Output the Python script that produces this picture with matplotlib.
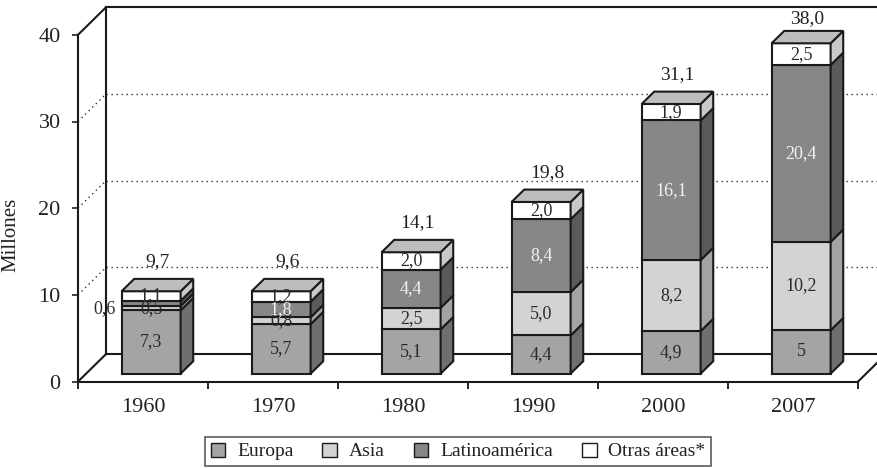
import matplotlib
matplotlib.use("Agg")
import matplotlib.pyplot as plt
from matplotlib.patches import Polygon, Patch

# data (millones)
years = ['1960', '1970', '1980', '1990', '2000', '2007']
europa = [7.3, 5.7, 5.1, 4.4, 4.9, 5]
asia = [0.5, 0.8, 2.5, 5.0, 8.2, 10.2]
latino = [0.6, 1.8, 4.4, 8.4, 16.1, 20.4]
otras = [1.1, 1.2, 2.0, 2.0, 1.9, 2.5]
totals = [9.7, 9.6, 14.1, 19.8, 31.1, 38.0]
series_names = ['Europa', 'Asia', 'Latinoamérica', 'Otras áreas*']

front_cols = ['#a4a4a7', '#d3d3d5', '#87878a', '#ffffff']
side_cols = ['#6f6f72', '#a3a3a6', '#5a5a5d', '#c9c9cb']
top_col = '#bdbdc0'
text_cols = ['#2a2a2a', '#2a2a2a', '#f2f2f2', '#2a2a2a']
edge = '#1a1a1a'

plt.rcParams['font.family'] = ['Liberation Serif', 'DejaVu Serif']

W, H = 878, 468
fig = plt.figure(figsize=(W / 100, H / 100), dpi=100)
# front face of the plotting box, in pixels
x0, y0, pw, ph = 78, 381.6, 780, 346.8
ax = fig.add_axes([x0 / W, (H - y0) / H, pw / W, ph / H])
ax.set_xlim(0, 6)
ax.set_ylim(0, 40)
ax.patch.set_visible(False)

# depth of the box in data units
DX = 28 / 130
DY = 27.5 / 8.67
d0, bd = 0.29, 0.45      # bar depth start and depth size (fraction of box)
bw = 0.454               # bar width

# walls
lk = dict(color=edge, lw=1.5, clip_on=False, zorder=1)
ax.plot([0, DX], [0, DY], **lk)
ax.plot([DX, DX], [DY, 40 + DY], **lk)
ax.plot([0, DX], [40, 40 + DY], **lk)
ax.plot([DX, 6.4], [40 + DY, 40 + DY], **lk)
ax.plot([DX, 6 + DX], [DY, DY], **lk)
ax.plot([6, 6 + DX], [0, DY], **lk)
for v in [10, 20, 30]:
    ax.plot([DX, 6.4], [v + DY, v + DY], color='#333333', lw=1.0,
            dashes=(1, 2.6), clip_on=False, zorder=1)
    ax.plot([0, DX], [v, v + DY], color='#333333', lw=1.0,
            dashes=(1, 2.6), clip_on=False, zorder=1)

for s in ['top', 'right']:
    ax.spines[s].set_visible(False)
for s in ['left', 'bottom']:
    ax.spines[s].set_linewidth(1.5)
    ax.spines[s].set_color(edge)

ax.set_yticks([0, 10, 20, 30, 40])
ax.tick_params(axis='y', direction='out', length=4.5, width=1.2, pad=8,
               labelsize=16, colors='#222222')
ax.set_xticks(range(7))
ax.set_xticklabels([])
ax.set_xticks([i + 0.5 for i in range(6)], minor=True)
ax.set_xticklabels(years, minor=True)
ax.tick_params(axis='x', which='major', direction='out', length=5, width=1.2)
ax.tick_params(axis='x', which='minor', length=0, pad=12, labelsize=16,
               colors='#222222')
ax.set_ylabel('Millones', fontsize=15, color='#222222')
ax.yaxis.set_label_coords(-0.074, 0.423)

series = [europa, asia, latino, otras]
ox, oy = d0 * DX, d0 * DY
bx, by = bd * DX, bd * DY
for i in range(len(years)):
    xl = i + 0.5 - bw / 2 + ox
    xr = xl + bw
    b = 0.0
    for k, vals in enumerate(series):
        h = vals[i]
        yb, yt = b + oy, b + h + oy
        ax.add_patch(Polygon([(xl, yb), (xr, yb), (xr, yt), (xl, yt)],
                             closed=True, fc=front_cols[k], ec=edge, lw=1.5,
                             clip_on=False, zorder=3))
        ax.add_patch(Polygon([(xr, yb), (xr + bx, yb + by), (xr + bx, yt + by),
                              (xr, yt)], closed=True, fc=side_cols[k], ec=edge,
                             lw=1.5, clip_on=False, zorder=3))
        lab = str(h).replace('.', ',')
        if i == 0 and k == 2:
            ax.annotate(lab, (xl, (yb + yt) / 2), xytext=(-4, -4),
                        textcoords='offset points', ha='right', va='center',
                        fontsize=13, color='#2a2a2a', zorder=5)
        else:
            ax.text((xl + xr) / 2, (yb + yt) / 2, lab, ha='center',
                    va='center', fontsize=13, color=text_cols[k], zorder=5)
        b += h
    t = b + oy
    ax.add_patch(Polygon([(xl, t), (xr, t), (xr + bx, t + by), (xl + bx, t + by)],
                         closed=True, fc=top_col, ec=edge, lw=1.5,
                         clip_on=False, zorder=3))
    # total above the bar, kept below the top edge of the box
    ylab = min(t + by + 1.95, 40 + DY - 1.35)
    ax.text((xl + xr + bx) / 2, ylab, str(totals[i]).replace('.', ','),
            ha='center', va='center', fontsize=14, color='#222222', zorder=5)

handles = [Patch(fc=front_cols[k], ec=edge, lw=1.0) for k in range(4)]
leg = fig.legend(handles, series_names, loc='center',
                 bbox_to_anchor=(458 / W, 1 - 451.5 / H), ncol=4,
                 fontsize=14, frameon=True, fancybox=False, handlelength=0.75,
                 handleheight=0.75, handletextpad=0.6, columnspacing=1.5,
                 borderpad=0.3, borderaxespad=0)
leg.get_frame().set_edgecolor('#333333')
leg.get_frame().set_linewidth(1.2)
for t in leg.get_texts():
    t.set_color('#222222')

fig.savefig('out.png', dpi=100)
